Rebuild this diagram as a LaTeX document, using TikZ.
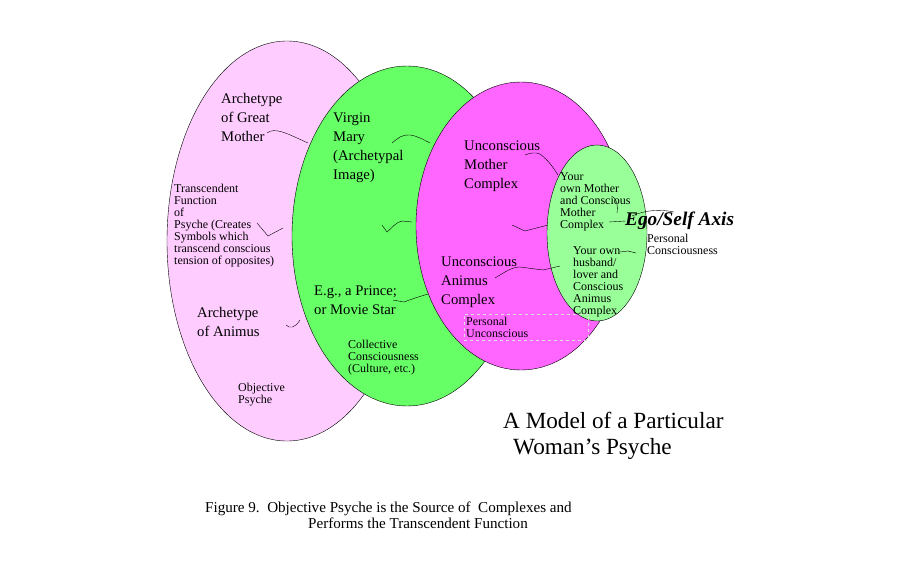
\documentclass[tikz,border=0pt]{standalone}
\usepackage{fontspec}
\setmainfont{Liberation Serif}
\definecolor{objpink}{RGB}{255,204,255}
\definecolor{collgreen}{RGB}{102,255,102}
\definecolor{persmagenta}{RGB}{255,102,255}
\definecolor{egogreen}{RGB}{153,255,153}
\tikzset{
  bigtxt/.style={font=\fontsize{14.7}{19}\selectfont,align=left,anchor=north west,inner sep=0pt},
  smalltxt/.style={font=\fontsize{12}{12}\selectfont,align=left,anchor=north west,inner sep=0pt},
  squiggle/.style={thin,black}
}
\begin{document}
\begin{tikzpicture}[x=1pt,y=-1pt]
    \useasboundingbox (0,0) rectangle (900,570);
    \draw[fill=objpink](287,241) ellipse [x radius=120pt,y radius=200pt];
    \draw[fill=collgreen](407,236) ellipse [x radius=115pt,y radius=170pt];
    \draw[fill=persmagenta](521,226) ellipse [x radius=105pt,y radius=144pt];
    \draw[fill=egogreen](597,233) ellipse [x radius=50pt,y radius=88pt];

    \node[bigtxt] (greatmother) at (221,93) {Archetype\\of Great\\Mother};
    \node[smalltxt] (transcendent) at (174,184) {Transcendent\\Function\\of\\Psyche (Creates\\Symbols which\\transcend conscious\\tension of opposites)};
    \node[bigtxt] (animus) at (197,307) {Archetype\\of Animus};
    \node[smalltxt] (objective) at (238,383) {Objective\\Psyche};
    \node[bigtxt] (virgin) at (333,113) {Virgin\\Mary\\(Archetypal\\Image)};
    \node[bigtxt] (prince) at (314,286) {E.g., a Prince;\\or Movie Star};
    \node[smalltxt] (collective) at (348,340) {Collective\\Consciousness\\(Culture, etc.)};
    \node[bigtxt] (uncmother) at (464,141) {Unconscious\\Mother\\Complex};
    \node[bigtxt] (uncanimus) at (441,257) {Unconscious\\Animus\\Complex};
    \node[smalltxt,draw=white!75!gray,dashed,inner sep=1.5pt,minimum width=124pt,minimum height=26pt,text width=120pt] (persunc) at (464,314) {Personal\\Unconscious};
    \node[smalltxt] (ownmother) at (560,172) {Your\\own Mother\\and Conscious\\Mother\\Complex};
    \node[smalltxt] (ownanimus) at (573,246) {Your own\\husband/\\lover and\\Conscious\\Animus\\Complex};
    \node[font=\fontsize{19.3}{19}\selectfont\bfseries\itshape,anchor=north west,inner sep=0pt] (egoself) at (625,212) {Ego/Self Axis};
    \node[smalltxt] (perscons) at (647,234) {Personal\\Consciousness};
    \node[font=\fontsize{23.2}{26}\selectfont,align=left,anchor=north west,inner sep=0pt] (model) at (503,412) {A Model of a Particular\\\hspace*{10pt}Woman's Psyche};
    \node[font=\fontsize{15.1}{16}\selectfont,anchor=north west,inner sep=0pt] (caption) at (205,502) {Figure 9.\ \ Objective Psyche is the Source of\ \ Complexes and};
    \node[font=\fontsize{15.1}{16}\selectfont,anchor=north west,inner sep=0pt] (caption2) at (308,518) {Performs the Transcendent Function};

    \coordinate (gm1) at (267,133);
    \coordinate (gm2) at (308,143);
    \coordinate (tf1) at (257,223);
    \coordinate (tf2) at (283,228);
    \coordinate (an1) at (286,325);
    \coordinate (an2) at (300,320);
    \coordinate (vm1) at (392,143);
    \coordinate (vm2) at (430,143);
    \coordinate (gs1) at (382,225);
    \coordinate (gs2) at (412,222);
    \coordinate (pr1) at (393,300);
    \coordinate (pr2) at (428,294);
    \coordinate (um1) at (525,155);
    \coordinate (um2) at (558,175);
    \coordinate (ms1) at (512,225);
    \coordinate (ms2) at (548,225);
    \coordinate (ua1) at (495,278);
    \coordinate (ua2) at (560,266);
    \coordinate (eg1) at (609,222);
    \coordinate (ax1) at (632,216);
    \coordinate (ax2) at (674,212);
    \coordinate (cn1) at (613,197);
    \coordinate (cn2) at (617,213);
    \coordinate (ow1) at (620,252);
    \coordinate (ow2) at (636,253);

    \draw[squiggle](gm1) .. controls (275,127) and (286,133) .. (gm2);
    \draw[squiggle](tf1)--(268,236)--(tf2);
    \draw[squiggle](an1) .. controls (290,329) and (295,328) .. (an2);
    \draw[squiggle](vm1) .. controls (398,138) and (403,134) .. (410,135) .. controls (418,136) and (424,140) .. (vm2);
    \draw[squiggle](gs1)--(387,232) .. controls (392,228) and (396,222) .. (402,221)--(gs2);
    \draw[squiggle](pr1)--(404,302) .. controls (412,299) and (418,297) .. (pr2);
    \draw[squiggle](um1) .. controls (530,153) and (535,152) .. (540,154) .. controls (548,160) and (553,167) .. (um2);
    \draw[squiggle](ms1)--(525,231)--(ms2);
    \draw[squiggle](ua1) .. controls (505,272) and (512,267) .. (520,267)--(543,270)--(ua2);
    \draw[squiggle](eg1)--(egoself.west);
    \draw[squiggle](ax1) .. controls (645,210) and (660,209) .. (ax2);
    \draw[squiggle](cn1) .. controls (617,200) and (618,205) .. (cn2);
    \draw[squiggle](ow1)--(628,251)--(ow2);
\end{tikzpicture}
\end{document}
